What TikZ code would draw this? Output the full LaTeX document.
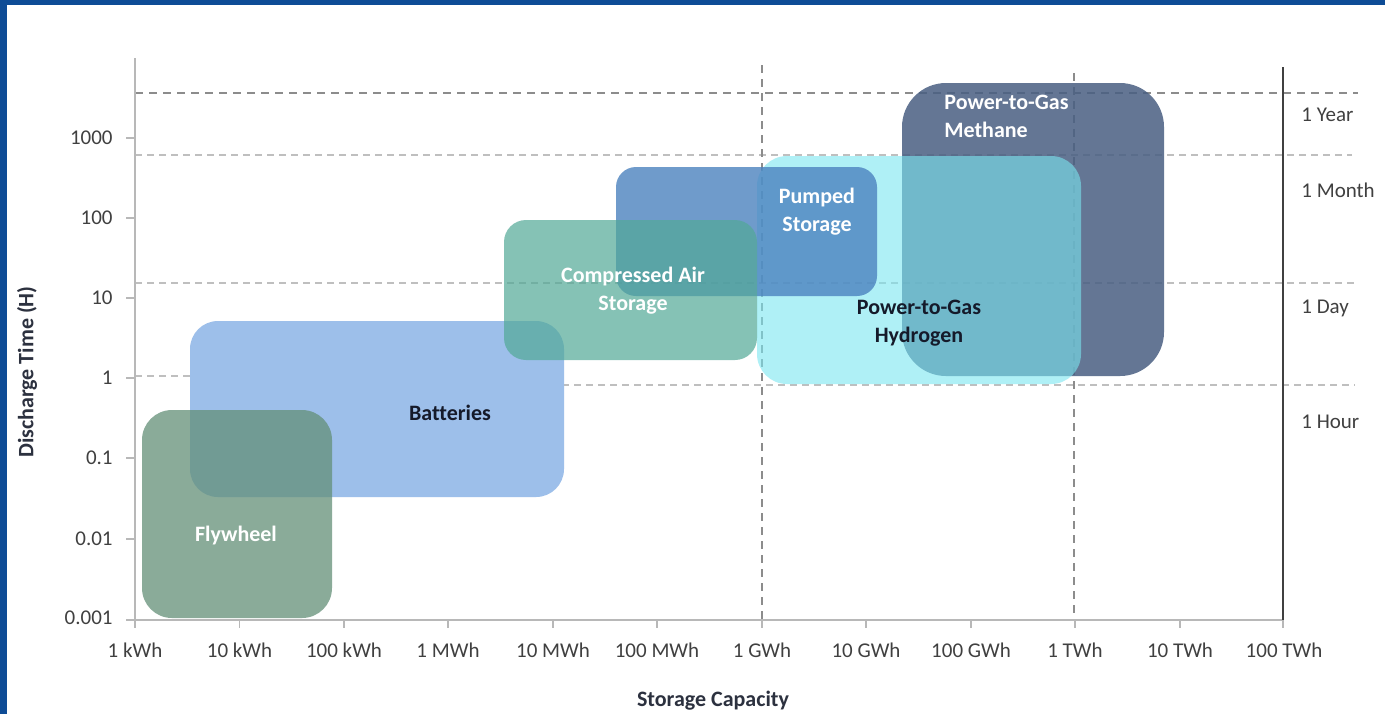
\documentclass[tikz,border=0pt]{standalone}
\usepackage{fontspec}
\setmainfont{Carlito}[Ligatures=NoCommon]
\definecolor{frameblue}{RGB}{14,76,150}
\definecolor{methanefill}{RGB}{73,95,130}
\definecolor{hydrogenfill}{RGB}{123,230,240}
\definecolor{pumpedfill}{RGB}{75,130,191}
\definecolor{batteryfill}{RGB}{157,191,234}
\definecolor{airfill}{RGB}{82,169,151}
\definecolor{flywheelfill}{RGB}{99,143,120}
\definecolor{darktext}{RGB}{21,26,42}
\definecolor{ticktext}{RGB}{64,64,64}
\tikzset{
	storebox/.style={rounded corners=#1,inner sep=0pt},
	whitelabel/.style={text=white,font=\fontsize{11}{14}\selectfont\bfseries,align=center,inner sep=0pt},
	darklabel/.style={text=darktext,font=\fontsize{11}{14}\selectfont\bfseries,align=center,inner sep=0pt},
	ticklabel/.style={text=ticktext,font=\fontsize{10.5}{13}\selectfont,inner sep=0pt},
	axistitle/.style={text=darktext!90,font=\fontsize{11}{14}\selectfont\bfseries,inner sep=0pt},
	lightgrid/.style={draw=black!25,line width=1pt,dash pattern=on 3.5pt off 2.5pt},
	darkgrid/.style={draw=black!45,line width=0.8pt,dash pattern=on 4pt off 3pt},
	axisline/.style={draw=black!28,line width=0.8pt},
}
\begin{document}
\begin{tikzpicture}[x=0.5pt,y=-0.5pt]
	\useasboundingbox (0,0) rectangle (1385,714);
	\fill[frameblue] (0,0) rectangle (1385,714);
	\fill[white] (7,5) rectangle (1385,714);

	% grid lines
	\draw[darkgrid] (135,93) -- (1358,93);
	\draw[lightgrid] (135,155) -- (1352,155);
	\draw[lightgrid] (135,283) -- (1355,283);
	\draw[lightgrid] (135,376) -- (200,376);
	\draw[lightgrid] (550,385) -- (1355,385);
	\draw[darkgrid] (762,65) -- (762,620);
	\draw[darkgrid] (1074,73) -- (1074,620);

	% axes
	\draw[axisline] (135,58) -- (135,620) -- (1283,620);
	\draw[axisline] (126,138) -- (135,138) (126,218) -- (135,218) (126,298) -- (135,298)
		(126,378) -- (135,378) (126,458) -- (135,458) (126,539) -- (135,539) (126,620) -- (135,620);
	\draw[axisline] (135,620) -- (135,628) (239.5,620) -- (239.5,628) (344,620) -- (344,628)
		(448,620) -- (448,628) (553,620) -- (553,628) (657,620) -- (657,628)
		(762,620) -- (762,628) (866,620) -- (866,628) (971,620) -- (971,628)
		(1075,620) -- (1075,628) (1180,620) -- (1180,628) (1283,620) -- (1283,628);
	\draw[draw=black!75,line width=0.8pt] (1283,67) -- (1283,620);

	\node[ticklabel,anchor=east] (y1000) at (113,138) {1000};
	\node[ticklabel,anchor=east] (y100) at (113,218) {100};
	\node[ticklabel,anchor=east] (y10) at (113,298) {10};
	\node[ticklabel,anchor=east] (y1) at (113,378) {1};
	\node[ticklabel,anchor=east] (y01) at (113,458) {0.1};
	\node[ticklabel,anchor=east] (y001) at (113,539) {0.01};
	\node[ticklabel,anchor=east] (y0001) at (113,618) {0.001};

	\node[ticklabel] (kwh1) at (135,650) {1 kWh};
	\node[ticklabel] (kwh10) at (239.5,650) {10 kWh};
	\node[ticklabel] (kwh100) at (344,650) {100 kWh};
	\node[ticklabel] (mwh1) at (448,650) {1 MWh};
	\node[ticklabel] (mwh10) at (553,650) {10 MWh};
	\node[ticklabel] (mwh100) at (657,650) {100 MWh};
	\node[ticklabel] (gwh1) at (762,650) {1 GWh};
	\node[ticklabel] (gwh10) at (866,650) {10 GWh};
	\node[ticklabel] (gwh100) at (971,650) {100 GWh};
	\node[ticklabel] (twh1) at (1075,650) {1 TWh};
	\node[ticklabel] (twh10) at (1180,650) {10 TWh};
	\node[ticklabel] (twh100) at (1284,650) {100 TWh};

	\node[ticklabel,anchor=west] (year) at (1301,115) {1 Year};
	\node[ticklabel,anchor=west] (month) at (1301,190) {1 Month};
	\node[ticklabel,anchor=west] (day) at (1301,308) {1 Day};
	\node[ticklabel,anchor=west] (hour) at (1301,422) {1 Hour};

	\node[axistitle] (xtitle) at (713,701) {Storage Capacity};
	\node[axistitle,rotate=90] (ytitle) at (27,372) {Discharge Time (H)};

	% storage ranges
	\node[storebox=22pt,fill=methanefill,fill opacity=0.85,minimum width=131pt,minimum height=146.5pt] (methane) at (1033,229.5) {};
	\node[storebox=15pt,fill=hydrogenfill,fill opacity=0.6,minimum width=162pt,minimum height=114pt] (hydrogen) at (919,270) {};
	\node[storebox=10pt,fill=pumpedfill,fill opacity=0.8,minimum width=130.5pt,minimum height=64.5pt] (pumped) at (746.5,231.5) {};
	\node[storebox=14pt,fill=batteryfill,minimum width=187pt,minimum height=88pt] (batteries) at (377,409) {};
	\node[storebox=11pt,fill=airfill,fill opacity=0.7,minimum width=126.5pt,minimum height=70pt] (air) at (630.5,290) {};
	\node[storebox=15pt,fill=flywheelfill,fill opacity=0.75,minimum width=95pt,minimum height=104pt] (flywheel) at (237,514) {};

	\node[whitelabel,anchor=west,align=left] (methanetext) at (944,116) {Power-to-Gas\\Methane};
	\node[darklabel] (hydrogentext) at (919,323) {Power-to-Gas\\Hydrogen};
	\node[whitelabel] (pumpedtext) at (817,212) {Pumped\\Storage};
	\node[darklabel] (batteriestext) at (450,413) {Batteries};
	\node[whitelabel] (airtext) at (633,290.5) {Compressed Air\\Storage};
	\node[whitelabel] (flywheeltext) at (236,535) {Flywheel};
\end{tikzpicture}
\end{document}
